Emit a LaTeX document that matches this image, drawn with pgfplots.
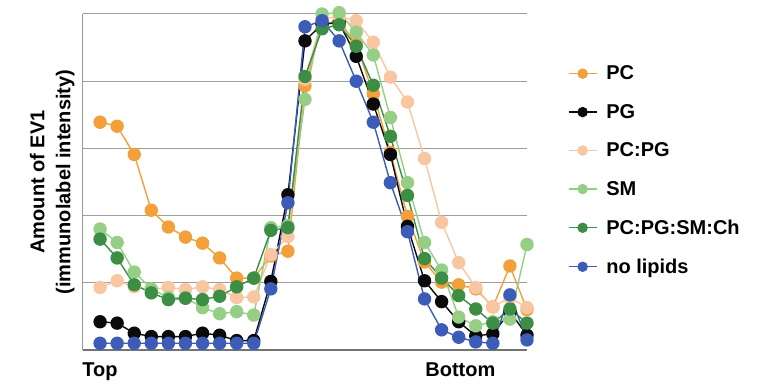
\documentclass[border=0pt]{standalone}
\usepackage{pgfplots}
\pgfplotsset{compat=1.18}
\usepackage{fontspec}
\setmainfont{Liberation Sans}
\definecolor{cPC}{HTML}{F4A03A}
\definecolor{cPG}{HTML}{0A0A0A}
\definecolor{cPCPG}{HTML}{F9C6A2}
\definecolor{cSM}{HTML}{95CE84}
\definecolor{cMix}{HTML}{3C8E45}
\definecolor{cNo}{HTML}{3D5CB8}
\begin{document}
\begin{tikzpicture}
\path[use as bounding box] (-83pt,-37pt) rectangle (678pt,350pt);
\begin{axis}[
  at={(0,0)}, anchor=south west,
  scale only axis, width=444pt, height=336pt,
  xmin=-1, xmax=25, ymin=0, ymax=5,
  axis x line*=bottom, axis y line*=left,
  x axis line style={draw=black!55, line width=1.2pt, -},
  y axis line style={draw=black!40, line width=1pt, -},
  ytick={1,2,3,4,5}, yticklabels={},
  ymajorgrids, major grid style={draw=black!38, line width=1pt},
  major tick length=0pt,
  xtick={0,21.1}, xticklabels={Top,Bottom},
  xticklabel style={font=\fontsize{20}{23}\selectfont\bfseries, yshift=-9pt},
  ylabel={Amount of EV1\\(immunolabel intensity)},
  ylabel style={font=\fontsize{20}{26}\selectfont\bfseries, align=center, yshift=-2pt},
  clip=false,
  every axis plot/.append style={line width=1.4pt, mark=*, mark size=6pt},
  legend style={draw=none, fill=none, at={(1.085,0.855)}, anchor=north west,
    font=\fontsize{20}{23}\selectfont\bfseries, row sep=21pt,
    nodes={inner sep=1pt}},
  legend cell align=left,
  legend image code/.code={\draw[mark repeat=2,mark phase=2,mark size=4.5pt] plot coordinates {(0pt,0pt) (14pt,0pt) (28pt,0pt)};\path (36pt,0pt);},
]
\addplot[color=cPC, mark options={fill=cPC}] coordinates {
(0,3.39)(1,3.33)(2,2.91)(3,2.08)(4,1.83)(5,1.68)(6,1.59)(7,1.37)(8,1.07)(9,1.07)
(10,1.40)(11,1.47)(12,3.93)(13,4.85)(14,4.90)(15,4.55)(16,3.81)(17,2.94)(18,1.99)(19,1.31)
(20,1.01)(21,0.97)(22,0.91)(23,0.64)(24,1.25)(25,0.60)};
\addlegendentry{PC}
\addplot[color=cPG, mark options={fill=cPG}] coordinates {
(0,0.42)(1,0.40)(2,0.25)(3,0.20)(4,0.20)(5,0.20)(6,0.25)(7,0.22)(8,0.14)(9,0.14)
(10,1.02)(11,2.31)(12,4.60)(13,4.85)(14,4.87)(15,4.37)(16,3.66)(17,2.91)(18,1.84)(19,1.03)
(20,0.72)(21,0.42)(22,0.21)(23,0.24)(24,0.57)(25,0.22)};
\addlegendentry{PG}
\addplot[color=cPCPG, mark options={fill=cPCPG}] coordinates {
(0,0.93)(1,1.03)(2,0.94)(3,0.90)(4,0.93)(5,0.90)(6,0.94)(7,0.90)(8,0.78)(9,0.79)
(10,1.42)(11,1.69)(12,4.03)(13,4.93)(14,4.96)(15,4.90)(16,4.58)(17,4.06)(18,3.69)(19,2.85)
(20,1.90)(21,1.30)(22,0.93)(23,0.64)(24,0.78)(25,0.63)};
\addlegendentry{PC:PG}
\addplot[color=cSM, mark options={fill=cSM}] coordinates {
(0,1.80)(1,1.60)(2,1.16)(3,0.91)(4,0.78)(5,0.78)(6,0.63)(7,0.54)(8,0.57)(9,0.52)
(10,1.82)(11,1.85)(12,3.73)(13,5.00)(14,5.02)(15,4.73)(16,4.39)(17,3.46)(18,2.49)(19,1.60)
(20,1.19)(21,0.49)(22,0.36)(23,0.42)(24,0.46)(25,1.57)};
\addlegendentry{SM}
\addplot[color=cMix, mark options={fill=cMix}] coordinates {
(0,1.65)(1,1.37)(2,0.97)(3,0.85)(4,0.75)(5,0.77)(6,0.75)(7,0.80)(8,0.94)(9,1.07)
(10,1.78)(11,1.82)(12,4.07)(13,4.78)(14,4.84)(15,4.52)(16,3.94)(17,3.18)(18,2.30)(19,1.36)
(20,1.07)(21,0.81)(22,0.61)(23,0.40)(24,0.61)(25,0.40)};
\addlegendentry{PC:PG:SM:Ch}
\addplot[color=cNo, mark options={fill=cNo}] coordinates {
(0,0.10)(1,0.10)(2,0.10)(3,0.10)(4,0.10)(5,0.10)(6,0.10)(7,0.10)(8,0.10)(9,0.10)
(10,0.91)(11,2.19)(12,4.81)(13,4.90)(14,4.60)(15,4.00)(16,3.39)(17,2.49)(18,1.76)(19,0.76)
(20,0.30)(21,0.19)(22,0.12)(23,0.10)(24,0.82)(25,0.15)};
\addlegendentry{no lipids}
\end{axis}
\end{tikzpicture}
\end{document}
